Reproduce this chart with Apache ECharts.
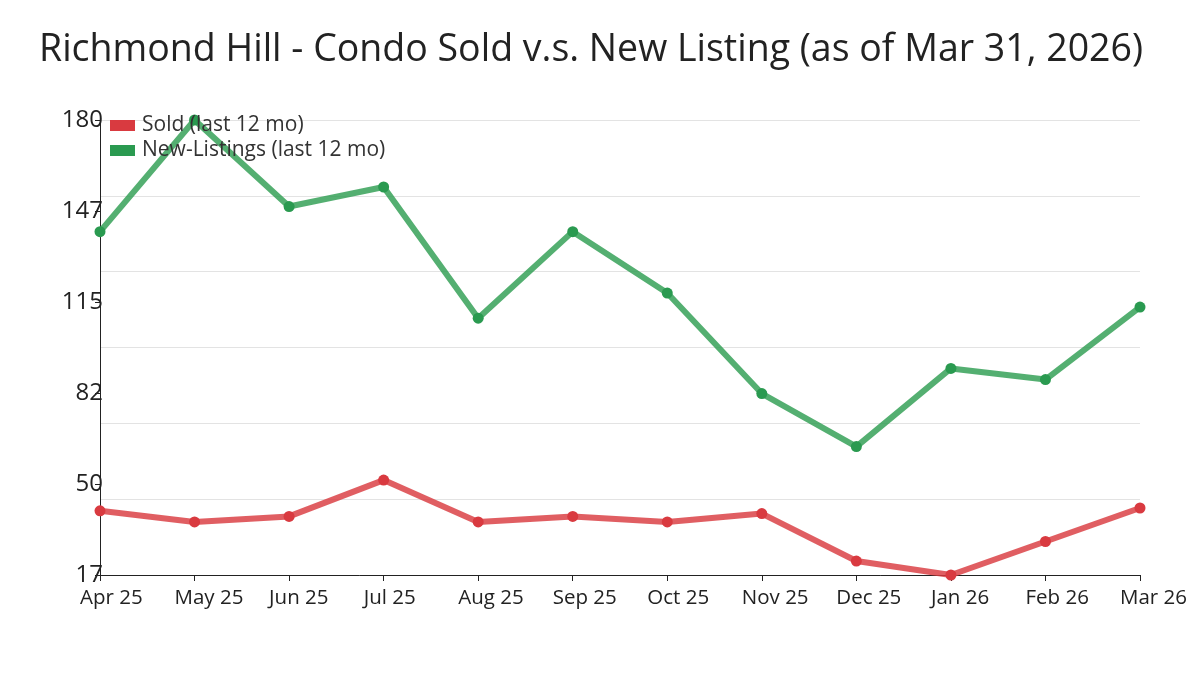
<!DOCTYPE html>
<html>
<head>
<meta charset="utf-8">
<script src="https://cdn.jsdelivr.net/npm/echarts@6/dist/echarts.min.js"></script>
<style>html,body{margin:0;padding:0;background:#fff}#c{width:1200px;height:675px}</style>
</head>
<body>
<div id="c"></div>
<script>
const categories = ['Apr 25','May 25','Jun 25','Jul 25','Aug 25','Sep 25','Oct 25','Nov 25','Dec 25','Jan 26','Feb 26','Mar 26'];
const sold = [40, 36, 38, 51, 36, 38, 36, 39, 22, 17, 29, 41];
const newListings = [140, 180, 149, 156, 109, 140, 118, 82, 63, 91, 87, 113];
const yTickLabels = ['17', '50', '82', '115', '147', '180'];
const yMin = 17, yMax = 180;

const chart = echarts.init(document.getElementById('c'));
const font = 'Open Sans';
chart.setOption({
  animation: false,
  title: {
    text: 'Richmond Hill - Condo Sold v.s. New Listing (as of Mar 31, 2026)',
    left: 34, top: 26,
    textStyle: { fontFamily: font, fontSize: 37.5, fontWeight: 'normal', color: '#222' }
  },
  legend: {
    orient: 'vertical', left: 105, top: 110, itemGap: 4, itemStyle: { borderWidth: 0 },
    icon: 'rect', itemWidth: 25, itemHeight: 11,
    textStyle: { fontFamily: font, fontSize: 21, color: '#333', padding: [0, 0, 0, 2] },
    data: ['Sold (last 12 mo)', 'New-Listings (last 12 mo)']
  },
  grid: { left: 100, right: 60, top: 120, bottom: 100, containLabel: false },
  xAxis: {
    type: 'category', data: categories, boundaryGap: false,
    axisLine: { lineStyle: { color: '#222', width: 1 } },
    axisTick: { show: true, length: 6, lineStyle: { color: '#222' } },
    axisLabel: { fontFamily: font, fontSize: 20.5, color: '#222', margin: 13,
      align: 'left', padding: [0, 0, 0, -20] },
    splitLine: { show: false }
  },
  yAxis: [
    { type: 'value', min: yMin, max: yMax, show: false, splitLine: { show: false } },
    { type: 'value', min: 0, max: 5, interval: 1, position: 'left',
      axisLine: { show: true, lineStyle: { color: '#222', width: 1 } },
      axisTick: { show: true, length: 5, lineStyle: { color: '#222' } },
      axisLabel: { fontFamily: font, fontSize: 24, color: '#222', margin: -3,
        formatter: v => yTickLabels[Math.round(v)] },
      splitLine: { show: false } },
    { type: 'value', min: 0, max: 6, interval: 1, show: true,
      axisLine: { show: false }, axisTick: { show: false }, axisLabel: { show: false },
      splitLine: { show: true, lineStyle: { color: '#e3e3e3', width: 1 } } }
  ],
  series: [
    { name: 'Sold (last 12 mo)', type: 'line', yAxisIndex: 0, data: sold,
      symbol: 'circle', symbolSize: 11, color: '#d93a40',
      lineStyle: { width: 6, color: 'rgba(217,58,64,0.82)' },
      itemStyle: { color: '#d93a40' }, z: 3 },
    { name: 'New-Listings (last 12 mo)', type: 'line', yAxisIndex: 0, data: newListings,
      symbol: 'circle', symbolSize: 11, color: '#2e9e52',
      lineStyle: { width: 6, color: 'rgba(46,158,82,0.82)' },
      itemStyle: { color: '#2a9a50' }, z: 3 }
  ]
});
</script>
</body>
</html>
